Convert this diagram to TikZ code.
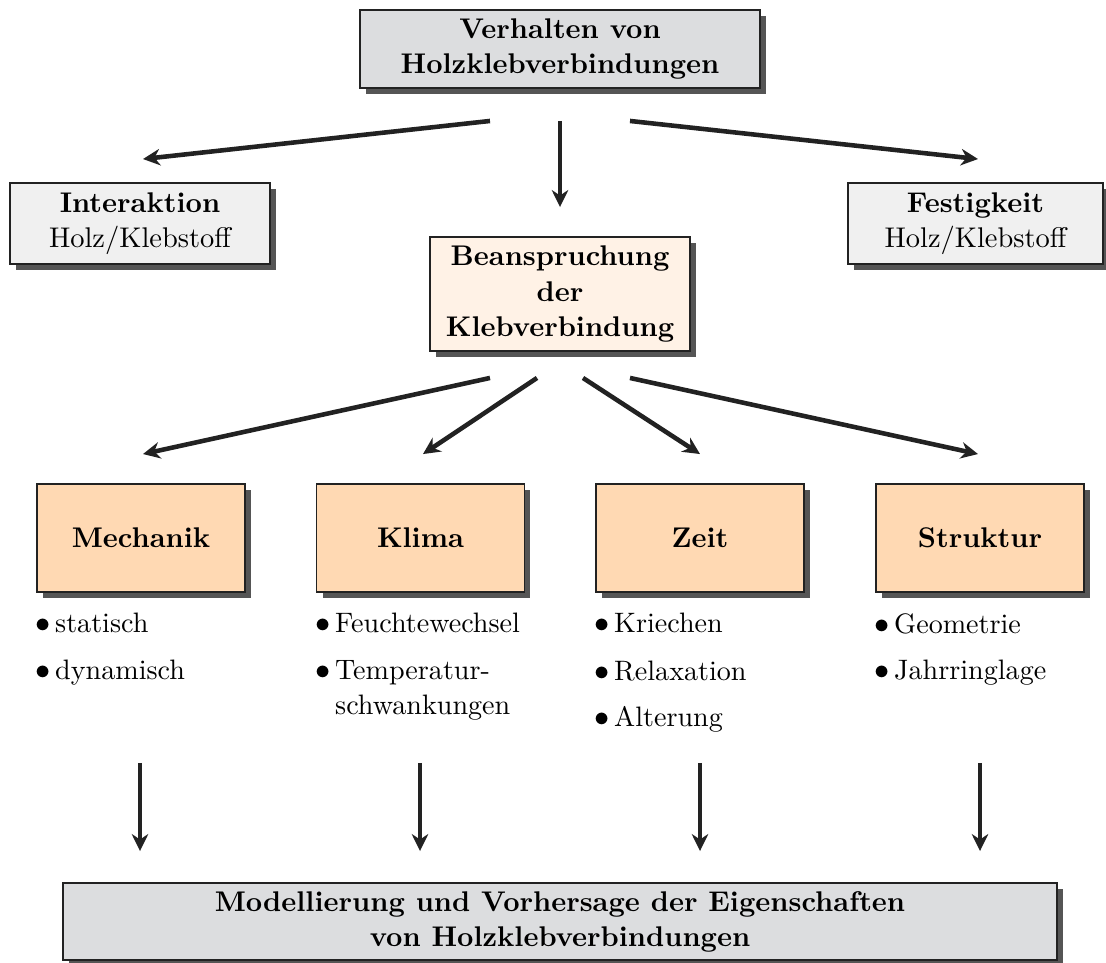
\documentclass[tikz,border=0pt]{standalone}
\usepackage{fontspec}
\setmainfont{lmroman10}[Extension=.otf,UprightFont=*-regular,BoldFont=*-bold,ItalicFont=*-italic,BoldItalicFont=*-bolditalic]
\usetikzlibrary{arrows.meta,shadows,calc}
\definecolor{boxgray}{HTML}{DCDDDF}
\definecolor{boxlight}{HTML}{F0F0F0}
\definecolor{boxcream}{HTML}{FFF2E6}
\definecolor{boxpeach}{HTML}{FFD9B3}
\definecolor{edge}{HTML}{222222}
\definecolor{shadowc}{HTML}{555555}
\begin{document}
\begin{tikzpicture}[x=0.02cm,y=-0.02cm,
  font=\fontsize{16.2}{20}\selectfont,
  box/.style={draw=edge,line width=1.1pt,align=center,inner sep=0pt,
    drop shadow={shadow xshift=0.12cm,shadow yshift=-0.12cm,fill=shadowc,opacity=1}},
  arr/.style={-{Stealth[length=3.4mm,width=3.3mm,inset=1.1mm]},line width=2.6pt,draw=edge},
  items/.style={anchor=north west,align=left,inner sep=0pt,font=\fontsize{16}{20}\selectfont}]
\useasboundingbox (0,0) rectangle (1106,963);

\node[box,fill=boxgray,minimum width=8cm,minimum height=1.56cm] (top) at (560,49)
  {\textbf{Verhalten von}\\\textbf{Holzklebverbindungen}};
\node[box,fill=boxlight,minimum width=5.2cm,minimum height=1.62cm] (inter) at (140,223.5)
  {\textbf{Interaktion}\\Holz/Klebstoff};
\node[box,fill=boxlight,minimum width=5.1cm,minimum height=1.62cm] (fest) at (975.5,223.5)
  {\textbf{Festigkeit}\\Holz/Klebstoff};
\node[box,fill=boxcream,minimum width=5.2cm,minimum height=2.28cm] (bean) at (560,294)
  {\textbf{Beanspruchung}\\\textbf{der}\\\textbf{Klebverbindung}};

\node[box,fill=boxpeach,minimum width=4.16cm,minimum height=2.16cm] (mech) at (141,538) {\textbf{Mechanik}};
\node[box,fill=boxpeach,minimum width=4.16cm,minimum height=2.16cm] (klima) at (420.5,538) {\textbf{Klima}};
\node[box,fill=boxpeach,minimum width=4.16cm,minimum height=2.16cm] (zeit) at (700,538) {\textbf{Zeit}};
\node[box,fill=boxpeach,minimum width=4.16cm,minimum height=2.16cm] (struk) at (980,538) {\textbf{Struktur}};

\node[box,fill=boxgray,minimum width=19.88cm,minimum height=1.54cm] (bottom) at (560,921.5)
  {\textbf{Modellierung und Vorhersage der Eigenschaften}\\\textbf{von Holzklebverbindungen}};

\node[items] (lmech) at (35,613) {$\bullet$\,statisch\\[6.5pt]$\bullet$\,dynamisch};
\node[items] (lklima) at (315,613) {$\bullet$\,Feuchtewechsel\\[6.5pt]$\bullet$\,Temperatur-\\\phantom{$\bullet$\,}schwankungen};
\node[items] (lzeit) at (594,613) {$\bullet$\,Kriechen\\[7pt]$\bullet$\,Relaxation\\[6.5pt]$\bullet$\,Alterung};
\node[items] (lstruk) at (874,613) {$\bullet$\,Geometrie\\[6.5pt]$\bullet$\,Jahrringlage};

\draw[arr] ([shift={(-70,32)}]top.south) -- ([shift={(3,-23)}]inter.north);
\draw[arr] ([shift={(0,32)}]top.south) -- ([shift={(0,-29)}]bean.north);
\draw[arr] ([shift={(70,32)}]top.south) -- ([shift={(2.5,-23)}]fest.north);

\draw[arr] ([shift={(-70,26)}]bean.south) -- ([shift={(2,-29)}]mech.north);
\draw[arr] ([shift={(-23,26)}]bean.south) -- ([shift={(2.5,-29)}]klima.north);
\draw[arr] ([shift={(23,26)}]bean.south) -- ([shift={(0,-29)}]zeit.north);
\draw[arr] ([shift={(70,26)}]bean.south) -- ([shift={(-2,-29)}]struk.north);

\draw[arr] ([shift={(-1,170)}]mech.south) -- ([shift={(-1,-31)}]mech.south |- bottom.north);
\draw[arr] ([shift={(-0.5,170)}]klima.south) -- ([shift={(-0.5,-31)}]klima.south |- bottom.north);
\draw[arr] ([shift={(0,170)}]zeit.south) -- ([shift={(0,-31)}]zeit.south |- bottom.north);
\draw[arr] ([shift={(0,170)}]struk.south) -- ([shift={(0,-31)}]struk.south |- bottom.north);
\end{tikzpicture}
\end{document}
